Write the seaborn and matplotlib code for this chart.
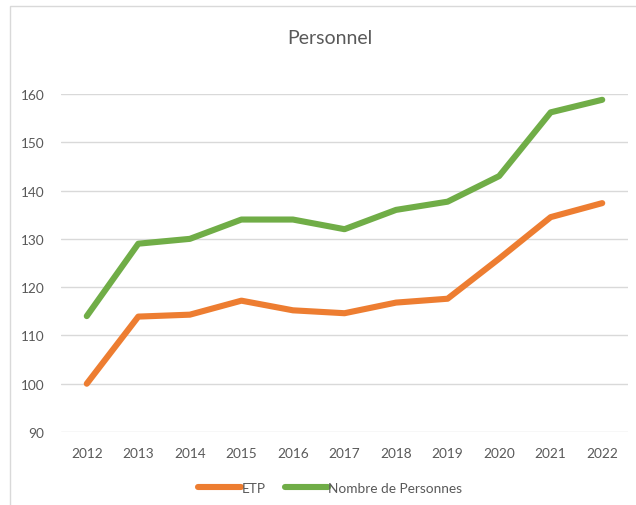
import matplotlib
matplotlib.use("Agg")
import matplotlib.pyplot as plt
import seaborn as sns
import pandas as pd
from matplotlib.patches import Rectangle

years = ["2012", "2013", "2014", "2015", "2016", "2017", "2018", "2019", "2020", "2021", "2022"]
etp = [100.0, 113.9, 114.3, 117.2, 115.2, 114.6, 116.8, 117.6, 125.9, 134.5, 137.4]
personnes = [114.0, 129.0, 130.0, 134.0, 134.0, 132.0, 136.0, 137.7, 143.0, 156.2, 158.8]
series_names = ["ETP", "Nombre de Personnes"]
yticks = [90, 100, 110, 120, 130, 140, 150, 160]
title = "Personnel"

df = pd.DataFrame({
    "Année": years * 2,
    "Valeur": etp + personnes,
    "Série": [series_names[0]] * len(years) + [series_names[1]] * len(years),
})

sns.set_theme(style="white")
plt.rcParams["font.family"] = ["Lato", "DejaVu Sans"]

fig = plt.figure(figsize=(6.36, 5.06), dpi=100)
ax = fig.add_axes([61 / 636, 1 - 433 / 506, (628 - 61) / 636, (433 - 95) / 506])

palette = {series_names[0]: "#ED7D31", series_names[1]: "#70AD47"}
sns.lineplot(data=df, x="Année", y="Valeur", hue="Série", palette=palette,
             linewidth=4.4, ax=ax, sort=False, solid_capstyle="round")

ax.set_xlim(-0.5, len(years) - 0.5)
ax.set_ylim(90, 160)
ax.set_yticks(yticks)
ax.yaxis.grid(True, color="#D9D9D9", linewidth=1.0)
ax.xaxis.grid(False)
for s in ax.spines.values():
    s.set_visible(False)
ax.set_xlabel("")
ax.set_ylabel("")
ax.tick_params(axis="both", length=0, labelsize=9.8, labelcolor="#595959")
ax.tick_params(axis="y", pad=12)
ax.tick_params(axis="x", pad=11)

fig.text(330 / 636, 1 - 38 / 506, title, ha="center", va="center",
         fontsize=14, color="#595959")

handles, labels = ax.get_legend_handles_labels()
ax.legend(handles, labels, loc="center", bbox_to_anchor=(330 / 636, 1 - 489 / 506),
          bbox_transform=fig.transFigure, ncol=2, frameon=False, fontsize=9.8,
          labelcolor="#595959", handlelength=3.2, handletextpad=0.0, columnspacing=1.4)

fig.patches.append(Rectangle((10 / 636, -0.1), 1.2, 1 - 7 / 506 + 0.1,
                             transform=fig.transFigure, fill=False,
                             edgecolor="#D9D9D9", linewidth=1.0, zorder=-1))

fig.savefig("out.png", dpi=100)
